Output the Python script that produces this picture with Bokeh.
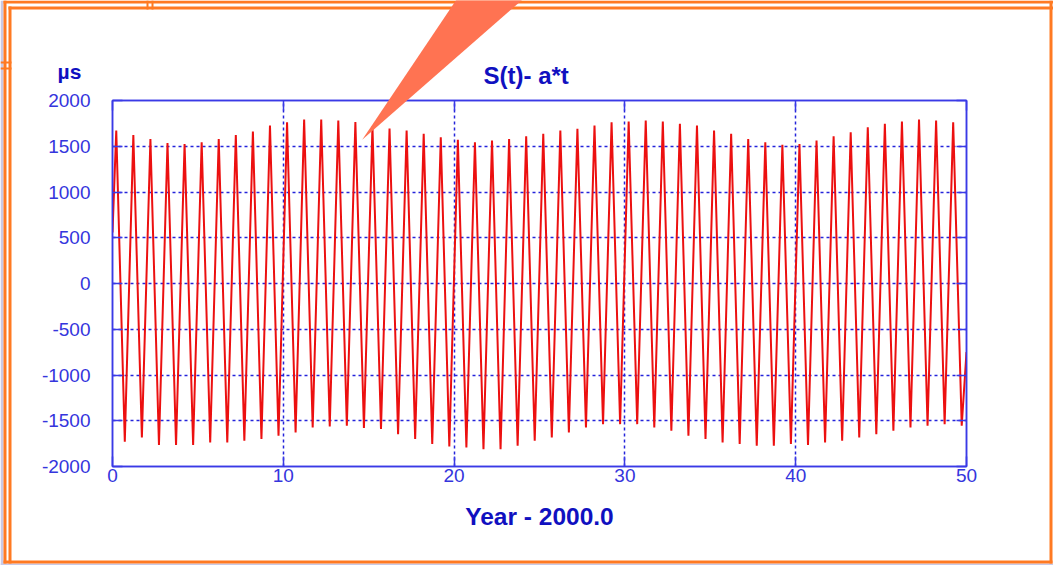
from bokeh.plotting import figure
from bokeh.models import (Range1d, LinearAxis, FixedTicker, ColumnDataSource,
                          PrintfTickFormatter, GridBox)
from bokeh.core.properties import value
from bokeh.embed import file_html
from bokeh.resources import INLINE

# ---------------- data ----------------
years = list(range(50))
# maxima of each yearly oscillation (µs), at year + 0.22
peak_vals = [1671, 1624, 1580, 1536, 1525, 1544, 1580, 1624, 1660, 1726,
             1763, 1792, 1792, 1781, 1765, 1715, 1695, 1671, 1635, 1599,
             1570, 1544, 1562, 1580, 1609, 1635, 1671, 1690, 1726, 1763,
             1770, 1781, 1770, 1745, 1726, 1671, 1635, 1580, 1544, 1515,
             1525, 1562, 1609, 1653, 1708, 1745, 1770, 1792, 1781, 1763]
# minima of each yearly oscillation (µs), at year + 0.72
trough_vals = [-1730, -1682, -1766, -1766, -1766, -1737, -1737, -1719, -1700, -1664,
               -1628, -1573, -1562, -1555, -1580, -1591, -1646, -1700, -1755, -1781,
               -1792, -1810, -1810, -1774, -1719, -1682, -1628, -1573, -1537, -1537,
               -1537, -1573, -1610, -1664, -1700, -1737, -1755, -1774, -1774, -1755,
               -1766, -1737, -1719, -1682, -1646, -1610, -1573, -1555, -1537, -1555]
peak_phase = 0.22
trough_phase = 0.72
start_point = (0.0, 557)
end_point = (50.0, -750)

x_ticks = [0, 10, 20, 30, 40, 50]
y_ticks = [-2000, -1500, -1000, -500, 0, 500, 1000, 1500, 2000]

title_text = "S(t)- a*t"
unit_text = "µs"
xlabel_text = "Year - 2000.0"

# build the series from the read extrema
t = [start_point[0]]
s = [start_point[1]]
for y0, pk, tr in zip(years, peak_vals, trough_vals):
    t += [y0 + peak_phase, y0 + trough_phase]
    s += [pk, tr]
t.append(end_point[0])
s.append(end_point[1])
src = ColumnDataSource(dict(t=t, s=s))

# ---------------- styling ----------------
W, H = 1053, 565
AX = "#3A3AE6"
TXT = "#3535DD"
BOLD = "#1010C0"
GRID = "#2424DA"
ORANGE = "#FF7A22"
CALLOUT = "#FF7352"
FONT = "Liberation Sans"

# ---------------- the chart ----------------
p = figure(width=W, height=H, output_backend="svg", toolbar_location=None,
           x_range=Range1d(0, 50), y_range=Range1d(-2000, 2000),
           min_border_left=112, min_border_right=W - 966,
           min_border_top=100, min_border_bottom=H - 466,
           x_axis_location=None, y_axis_location=None)
p.frame_align = False
p.background_fill_color = "white"
p.border_fill_color = "white"
p.outline_line_color = AX
p.outline_line_width = 1.5

def style_axis(ax, ticks, show_labels):
    ax.ticker = FixedTicker(ticks=ticks)
    ax.formatter = PrintfTickFormatter(format="%d")
    ax.axis_line_color = AX
    ax.axis_line_width = 1.5
    ax.major_tick_line_color = AX
    ax.major_tick_line_width = 1.5
    ax.major_tick_in = 10
    ax.major_tick_out = 0
    ax.minor_tick_line_color = None
    ax.major_label_text_font = FONT
    if show_labels:
        ax.major_label_text_font_size = "19px"
        ax.major_label_text_color = TXT
    else:
        ax.major_label_text_font_size = "0px"
        ax.major_label_standoff = 0
        ax.major_label_text_color = None

xb = LinearAxis(); style_axis(xb, x_ticks, True)
xb.major_label_standoff = 2
xb.axis_label = xlabel_text
xb.axis_label_text_font = FONT
xb.axis_label_text_font_size = "24.5px"
xb.axis_label_text_font_style = "bold"
xb.axis_label_text_color = BOLD
xb.axis_label_standoff = 18
xt = LinearAxis(); style_axis(xt, x_ticks, False)
yl = LinearAxis(); style_axis(yl, y_ticks, True)
yl.major_label_standoff = 22
yr = LinearAxis(); style_axis(yr, y_ticks, False)
p.add_layout(xb, "below")
p.add_layout(xt, "above")
p.add_layout(yl, "left")
p.add_layout(yr, "right")

p.title.text = title_text
p.title.align = "left"
p.title.offset = 371
p.title.text_font = FONT
p.title.text_font_size = "24px"
p.title.text_font_style = "bold"
p.title.text_color = BOLD
p.title.standoff = 24

p.xgrid.ticker = FixedTicker(ticks=x_ticks)
p.ygrid.ticker = FixedTicker(ticks=y_ticks)
for g in (p.xgrid, p.ygrid):
    g.grid_line_color = GRID
    g.grid_line_dash = "3 3"
    g.grid_line_width = 1.5

p.line("t", "s", source=src, line_color="#EC1010", line_width=2.0)

# ---------------- slide decoration overlay (pixel space) ----------------
d = figure(width=W, height=H, output_backend="svg", toolbar_location=None,
           x_range=Range1d(0, W), y_range=Range1d(H, 0),
           min_border=0, min_border_left=0, min_border_right=0,
           min_border_top=0, min_border_bottom=0,
           x_axis_location=None, y_axis_location=None)
d.frame_align = False
d.background_fill_color = None
d.border_fill_color = None
d.outline_line_color = None
d.xgrid.visible = False
d.ygrid.visible = False

pale = dict(l=[0, 0], r=[3, W], t=[0, 563], b=[H, H])
d.quad(left=pale["l"], right=pale["r"], top=pale["t"], bottom=pale["b"],
       fill_color="#C9C9E6", line_color=None)
# double orange border of the slide cell
fl = [3, 3, 3, 1049, 8, 8, 146, 151, 0, 0]
fr = [6, W, 1052, 1052, 11, W, 148, 153, 11, 11]
ft = [0, 0, 560, 0, 6, 6, 0, 0, 61, 67]
fb = [563, 3, 563, 563, 563, 9, 9, 9, 63, 69]
d.quad(left=fl, right=fr, top=ft, bottom=fb, fill_color=ORANGE, line_color=None)

# callout wedge
d.patch(x=[456.7, 523.3, 361.7], y=[-2, -2, 139.3], fill_color=CALLOUT, line_color=None)

# unit label
d.text(x=[69], y=[71], text=[unit_text], text_font=value(FONT), text_font_size="21px",
       text_font_style="bold", text_color=BOLD, text_align="center",
       text_baseline="middle")

layout = GridBox(children=[(p, 0, 0), (d, 0, 0)])

open("out.html", "w").write(file_html(layout, INLINE))
